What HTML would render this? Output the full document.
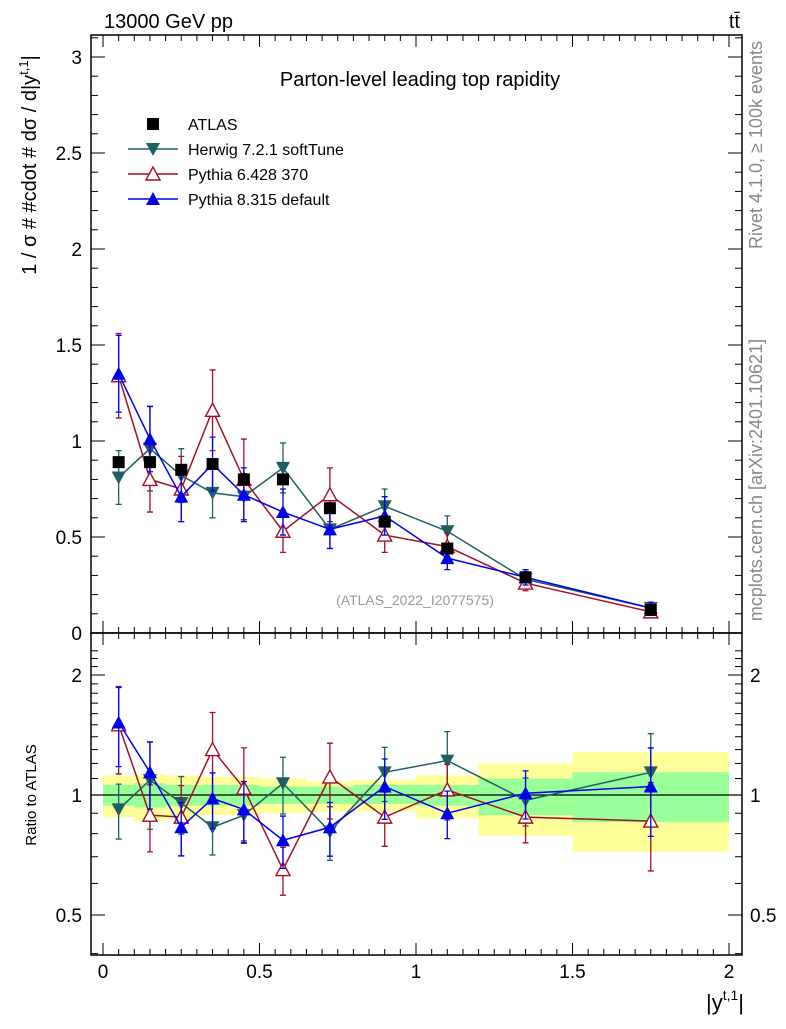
<!DOCTYPE html>
<html><head><meta charset="utf-8"><style>
body{margin:0;background:#fff}
svg text{font-family:"Liberation Sans",sans-serif}
</style></head><body>
<svg id="c" width="786" height="1024" xmlns="http://www.w3.org/2000/svg">
<text x="104" y="28" font-size="20">13000 GeV pp</text>
<text x="740" y="28" font-size="20" text-anchor="end">tt̄</text>
<text x="420" y="86" font-size="20" text-anchor="middle">Parton-level leading top rapidity</text>
<text x="415" y="605" font-size="14" fill="#999" text-anchor="middle">(ATLAS_2022_I2077575)</text>
<text transform="translate(762,145) rotate(-90)" font-size="18" fill="#888" text-anchor="middle">Rivet 4.1.0, ≥ 100k events</text>
<text transform="translate(762,480) rotate(-90)" font-size="18" fill="#888" text-anchor="middle">mcplots.cern.ch [arXiv:2401.10621]</text>
<text transform="translate(36,165) rotate(-90)" font-size="20" text-anchor="middle">1 / σ # #cdot # dσ / d|y<tspan font-size="13" dy="-8">t,1</tspan><tspan dy="8">|</tspan></text>
<text transform="translate(36,795) rotate(-90)" font-size="15" text-anchor="middle">Ratio to ATLAS</text>
<text x="744" y="1010" font-size="22" text-anchor="end">|y<tspan font-size="14" dy="-10">t,1</tspan><tspan dy="10">|</tspan></text>
<g id="g"></g>
</svg>
<script>
const edges=[0,0.1,0.2,0.3,0.4,0.5,0.65,0.8,1.0,1.2,1.5,2.0];
const centers=[0.05,0.15,0.25,0.35,0.45,0.575,0.725,0.9,1.1,1.35,1.75];
const atlas=[0.89,0.89,0.85,0.88,0.80,0.80,0.65,0.58,0.44,0.29,0.12];
const herwig=[0.81,0.96,0.82,0.73,0.71,0.86,0.54,0.66,0.53,0.28,0.13];
const herwigErr=[0.14,0.22,0.14,0.13,0.12,0.13,0.10,0.09,0.08,0.04,0.03];
const py6=[1.34,0.80,0.75,1.16,0.80,0.53,0.72,0.51,0.45,0.26,0.11];
const py6Err=[0.22,0.17,0.17,0.21,0.21,0.11,0.14,0.09,0.07,0.04,0.03];
const py8=[1.35,1.01,0.71,0.88,0.72,0.63,0.54,0.61,0.39,0.29,0.13];
const py8Err=[0.20,0.17,0.13,0.14,0.14,0.12,0.10,0.10,0.06,0.04,0.03];
const herwigR=[0.92,1.09,0.955,0.83,0.89,1.07,0.81,1.14,1.22,0.97,1.14];
const py6R=[1.50,0.89,0.88,1.30,1.04,0.65,1.11,0.88,1.03,0.88,0.86];
const py8R=[1.52,1.14,0.83,0.98,0.92,0.77,0.83,1.05,0.90,1.01,1.05];
const yelUp=[1.12,1.13,1.12,1.11,1.11,1.10,1.08,1.09,1.12,1.20,1.28];
const yelDn=[0.88,0.86,0.87,0.89,0.89,0.90,0.91,0.91,0.875,0.79,0.72];
const grnUp=[1.06,1.07,1.06,1.06,1.06,1.05,1.05,1.06,1.06,1.10,1.14];
const grnDn=[0.94,0.93,0.94,0.94,0.94,0.95,0.95,0.95,0.94,0.89,0.855];
const xTicks=[0,0.5,1,1.5,2];
const yTicks=[0,0.5,1,1.5,2,2.5,3];
const rTicks=[0.5,1,2];

const L=91,R=742,T=35,M=633,B=955;
const X=v=>103+v*313;
const Y=v=>633-v*192;
const RY=v=>795-Math.log2(v)*120;
const g=document.getElementById('g');
const NS='http://www.w3.org/2000/svg';
function mk(t,a){const e=document.createElementNS(NS,t);for(const k in a)e.setAttribute(k,a[k]);g.appendChild(e);return e;}

for(let i=0;i<centers.length;i++){
 let e=mk('rect',{x:X(edges[i]),y:RY(yelUp[i]),width:X(edges[i+1])-X(edges[i]),height:RY(yelDn[i])-RY(yelUp[i]),fill:'#ffff99'});
 
 
 e=mk('rect',{x:X(edges[i]),y:RY(grnUp[i]),width:X(edges[i+1])-X(edges[i]),height:RY(grnDn[i])-RY(grnUp[i]),fill:'#99ff99'});
 
 
}
let ln=mk('line',{x1:L,x2:R,y1:RY(1),y2:RY(1),stroke:'#000','stroke-width':1.3});



let f=mk('rect',{x:L,y:T,width:R-L,height:M-T,fill:'none',stroke:'#000','stroke-width':1.5});


f=mk('rect',{x:L,y:M,width:R-L,height:B-M,fill:'none',stroke:'#000','stroke-width':1.5});



for(let v=0;v<=2.001;v+=0.05){
 const maj=Math.abs(v*2-Math.round(v*2))<1e-6, len=maj?12:6;
 for(const [y0,d] of [[M,-1],[B,-1],[T,1],[M,1]]){
  const t=mk('line',{x1:X(v),x2:X(v),y1:y0,y2:y0+d*len,stroke:'#000'});
  
  
 }
}
xTicks.forEach(v=>{const t=mk('text',{x:X(v),y:978,'font-size':19,'text-anchor':'middle'});t.textContent=v;
 
 });
for(let i=0;i<=31;i++){const v=i*0.1;const yy=Y(v);if(yy<T)continue;const maj=i%5==0,len=maj?14:7;
 for(const [x0,d] of [[L,1],[R,-1]]){const t=mk('line',{x1:x0,x2:x0+d*len,y1:yy,y2:yy,stroke:'#000'});
 
 }}
yTicks.forEach(v=>{const t=mk('text',{x:82,y:Y(v)+7,'font-size':19,'text-anchor':'end'});t.textContent=v;
 
 });
const rminor=[0.4,0.5,0.6,0.7,0.8,0.9,1,1.1,1.2,1.3,1.4,1.5,1.6,1.7,1.8,1.9,2,2.1,2.2,2.3];
rminor.forEach(v=>{const yy=RY(v);if(yy<M||yy>B)return;const maj=rTicks.includes(v),len=maj?14:7;
 for(const [x0,d] of [[L,1],[R,-1]]){const t=mk('line',{x1:x0,x2:x0+d*len,y1:yy,y2:yy,stroke:'#000'});
 
 }});
rTicks.forEach(v=>{for(const [x,a] of [[82,'end'],[750,'start']]){const t=mk('text',{x:x,y:RY(v)+7,'font-size':19,'text-anchor':a});t.textContent=v;
 
 }});

function marker(x,y,type,col,name){
 let e;
 if(type=='sq')e=mk('rect',{x:x-6,y:y-6,width:12,height:12,fill:col});
 else if(type=='down')e=mk('polygon',{points:`${x-7},${y-6} ${x+7},${y-6} ${x},${y+7}`,fill:col});
 else if(type=='up')e=mk('polygon',{points:`${x-7},${y+6} ${x+7},${y+6} ${x},${y-7}`,fill:col});
 else e=mk('polygon',{points:`${x-7},${y+6} ${x+7},${y+6} ${x},${y-7}`,fill:'#fff',stroke:col,'stroke-width':1.4});
 
 
}
function series(vals,errs,ratio,col,type,name){
 const relE=errs.map((e,i)=>e/atlas[i]);
 for(const [data,ef,yf,mn] of [[vals,i=>errs[i],Y,0],[ratio,i=>relE[i]*ratio[i],RY,0.35]]){
  const pl=mk('polyline',{points:data.map((v,i)=>X(centers[i])+','+yf(v)).join(' '),fill:'none',stroke:col,'stroke-width':1.5});
  
  
  data.forEach((v,i)=>{const x=X(centers[i]),lo=Math.max(v-ef(i),mn),hi=v+ef(i);
   const e=mk('path',{d:`M${x},${yf(lo)}V${yf(hi)}M${x-3},${yf(lo)}h6M${x-3},${yf(hi)}h6`,stroke:col,'stroke-width':1.3,fill:'none'});
   
   
   marker(x,yf(v),type,col,name+'-point');});
 }
}
series(herwig,herwigErr,herwigR,'#1f5f62','down','herwig');
series(py6,py6Err,py6R,'#a50f25','open','pythia6');
series(py8,py8Err,py8R,'#0000ee','up','pythia8');
atlas.forEach((v,i)=>marker(X(centers[i]),Y(v),'sq','#000','atlas-point'));

const leg=[['ATLAS','sq','#000'],['Herwig 7.2.1 softTune','down','#1f5f62'],['Pythia 6.428 370','open','#a50f25'],['Pythia 8.315 default','up','#0000ee']];
leg.forEach((l,i)=>{const y=124+i*25;
 if(i>0){const e=mk('line',{x1:128,x2:178,y1:y,y2:y,stroke:l[2],'stroke-width':1.5});
 
 }
 marker(153,y,l[1],l[2],'legend-marker');
 const t=mk('text',{x:188,y:y+6,'font-size':16});t.textContent=l[0];
 
 });
</script>
</body></html>
